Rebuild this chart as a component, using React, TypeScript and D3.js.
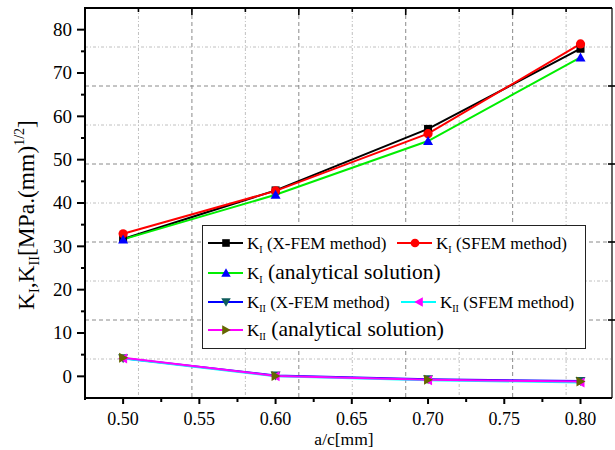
import React from "react";
import * as d3 from "d3";

const ratios = [0.5, 0.6, 0.7, 0.8];
const kiXfem = [31.7, 42.9, 57.1, 75.6];
const kiSfem = [32.9, 42.8, 56.0, 76.7];
const kiAnalytical = [31.6, 41.9, 54.3, 73.6];
const kiiXfem = [4.2, 0.2, -0.7, -1.1];
const kiiSfem = [4.1, 0.0, -0.9, -1.4];
const kiiAnalytical = [4.3, 0.1, -0.8, -1.2];

const xMajorTicks = [0.5, 0.55, 0.6, 0.65, 0.7, 0.75, 0.8];
const xMinorTicks = [0.525, 0.575, 0.625, 0.675, 0.725, 0.775];
const yMajorTicks = [0, 10, 20, 30, 40, 50, 60, 70, 80];
const yMinorTicks = [5, 15, 25, 35, 45, 55, 65, 75];
const gridXTicks = [0.5, 1, 1.5, 2, 2.5, 3, 3.5, 4, 4.5];
const gridYTicks = [0.5, 1, 1.5, 2, 2.5, 3, 3.5, 4, 4.5];

const FONT = "Liberation Serif";
const fs = { fontFamily: FONT };

type Shape = "square" | "circle" | "up" | "down" | "left" | "right";

const Marker = ({ shape, cx, cy, color, s = 1 }: { shape: Shape; cx: number; cy: number; color: string; s?: number }) => {
  const a = 5 * s;
  if (shape === "square") return <rect x={cx - 4 * s} y={cy - 4 * s} width={8 * s} height={8 * s} fill={color} />;
  if (shape === "circle") return <circle cx={cx} cy={cy} r={4.6 * s} fill={color} />;
  let pts = "";
  if (shape === "up") pts = `${cx},${cy - a} ${cx - a},${cy + a * 0.8} ${cx + a},${cy + a * 0.8}`;
  if (shape === "down") pts = `${cx},${cy + a} ${cx - a},${cy - a * 0.8} ${cx + a},${cy - a * 0.8}`;
  if (shape === "left") pts = `${cx - a},${cy} ${cx + a * 0.8},${cy - a} ${cx + a * 0.8},${cy + a}`;
  if (shape === "right") pts = `${cx + a},${cy} ${cx - a * 0.8},${cy - a} ${cx - a * 0.8},${cy + a}`;
  return <polygon points={pts} fill={color} />;
};

const series = [
  { name: "kiX", values: kiXfem, line: "#000000", marker: "#000000", shape: "square" as Shape },
  { name: "kiS", values: kiSfem, line: "#ff0000", marker: "#ff0000", shape: "circle" as Shape },
  { name: "kiA", values: kiAnalytical, line: "#00ee00", marker: "#0000ff", shape: "up" as Shape },
  { name: "kiiX", values: kiiXfem, line: "#0000ff", marker: "#0f5c5c", shape: "down" as Shape },
  { name: "kiiS", values: kiiSfem, line: "#00ffff", marker: "#ff00ff", shape: "left" as Shape },
  { name: "kiiA", values: kiiAnalytical, line: "#ff00ff", marker: "#666600", shape: "right" as Shape },
];

export default function App() {
  const L = 85, R = 611, T = 8, B = 398;
  const x = d3.scaleLinear().domain([0.475, 0.82]).range([L, R]);
  const y = d3.scaleLinear().domain([-5, 85]).range([B, T]);
  const gx = d3.scaleLinear().domain([0, 4.92]).range([L, R]);
  const gy = d3.scaleLinear().domain([0, 5]).range([B, T]);
  const line = d3.line<number>().x((_, i) => x(ratios[i])).y((v) => y(v));
  const fmt = d3.format(".2f");

  const legendRows = [
    { items: [
      { s: series[0], sub: "I", label: " (X-FEM method)", big: false, lx: 208 },
      { s: series[1], sub: "I", label: " (SFEM method)", big: false, lx: 397 },
    ], cy: 243 },
    { items: [{ s: series[2], sub: "I", label: " (analytical solution)", big: true, lx: 208 }], cy: 273 },
    { items: [
      { s: series[3], sub: "II", label: " (X-FEM method)", big: false, lx: 208 },
      { s: series[4], sub: "II", label: " (SFEM method)", big: false, lx: 401 },
    ], cy: 302 },
    { items: [{ s: series[5], sub: "II", label: " (analytical solution)", big: true, lx: 208 }], cy: 330 },
  ];

  return (
    <svg width={615} height={450} style={{ position: "absolute", left: 0, top: 0, background: "#fff", fontFamily: FONT }}>
      <rect x={0} y={0} width={615} height={450} fill="#fff" />
      {gridXTicks.map((t) => {
        const major = Number.isInteger(t);
        return (
          <line key={"gx" + t} x1={gx(t)} x2={gx(t)} y1={T} y2={B}
            stroke={major ? "#8a8a8a" : "#c0c0c0"} strokeWidth={1}
            strokeDasharray={major ? "4,3" : "3,2,1,2"} />
        );
      })}
      {gridYTicks.map((t) => {
        const major = Number.isInteger(t);
        return (
          <line key={"gy" + t} x1={L} x2={R} y1={gy(t)} y2={gy(t)}
            stroke={major ? "#8a8a8a" : "#c0c0c0"} strokeWidth={1}
            strokeDasharray={major ? "4,3" : "3,2,1,2"} />
        );
      })}
      {gridXTicks.map((t) => (
        <line key={"tt" + t} x1={gx(t)} x2={gx(t)} y1={T} y2={T + (Number.isInteger(t) ? 7 : 4)} stroke="#000" strokeWidth={1.6} />
      ))}
      {gridYTicks.filter((t) => Number.isInteger(t)).map((t) => (
        <line key={"rt" + t} x1={R - 3} x2={R + 6} y1={gy(t)} y2={gy(t)} stroke="#000" strokeWidth={1.6} />
      ))}
      <line x1={L} x2={R + 1} y1={T} y2={T} stroke="#000" strokeWidth={2} />
      <line x1={R + 1} x2={R + 1} y1={T} y2={B} stroke="#000" strokeWidth={1.2} />
      <line x1={L} x2={L} y1={T - 1} y2={B + 2} stroke="#000" strokeWidth={2} />
      <line x1={L - 1} x2={R + 1} y1={B} y2={B} stroke="#000" strokeWidth={2} />
      {yMajorTicks.map((t) => (
        <g key={"ym" + t}>
          <line x1={L - 8} x2={L} y1={y(t)} y2={y(t)} stroke="#000" strokeWidth={2} />
          <text style={fs} x={L - 13} y={y(t)} dy="0.34em" textAnchor="end" fontSize={19} fill="#000">{t}</text>
        </g>
      ))}
      {yMinorTicks.map((t) => (
        <line key={"yn" + t} x1={L - 4} x2={L} y1={y(t)} y2={y(t)} stroke="#000" strokeWidth={2} />
      ))}
      {xMajorTicks.map((t) => (
        <g key={"xm" + t}>
          <line x1={x(t)} x2={x(t)} y1={B} y2={B + 6} stroke="#000" strokeWidth={2} />
          <text style={fs} x={x(t)} y={425} textAnchor="middle" fontSize={18} fill="#000">{fmt(t)}</text>
        </g>
      ))}
      {xMinorTicks.map((t) => (
        <line key={"xn" + t} x1={x(t)} x2={x(t)} y1={B} y2={B + 4} stroke="#000" strokeWidth={2} />
      ))}
      <text style={fs} x={344} y={445} textAnchor="middle" fontSize={17.5} fill="#000">a/c[mm]</text>
      <text style={fs} transform={`translate(34,215) rotate(-90)`} textAnchor="middle" fontSize={23.5} fill="#000">
        <tspan>K</tspan>
        <tspan fontSize={14} dy={5}>I</tspan>
        <tspan dy={-5}>,K</tspan>
        <tspan fontSize={14} dy={5}>II</tspan>
        <tspan dy={-5}>[MPa.(mm)</tspan>
        <tspan fontSize={14} dy={-10}>1/2</tspan>
        <tspan dy={10}>]</tspan>
      </text>
      {series.map((s) => (
        <path key={"l" + s.name} d={line(s.values) || ""} fill="none" stroke={s.line} strokeWidth={2} />
      ))}
      {series.map((s) => (
        <g key={"m" + s.name}>
          {s.values.map((v, i) => (
            <Marker key={i} shape={s.shape} cx={x(ratios[i])} cy={y(v)} color={s.marker} />
          ))}
        </g>
      ))}
      <rect x={202.5} y={225.5} width={383} height={123} fill="#fff" stroke="#222" strokeWidth={1} />
      {legendRows.map((row, ri) => (
        <g key={"lr" + ri}>
          {row.items.map((it, ii) => (
            <g key={ii}>
              <line x1={it.lx} x2={it.lx + 35} y1={row.cy} y2={row.cy} stroke={it.s.line} strokeWidth={2} />
              <Marker shape={it.s.shape} cx={it.lx + 18} cy={row.cy} color={it.s.marker} s={0.95} />
              <text style={fs} x={it.lx + 39} y={row.cy + 6} fontSize={17} fill="#000">
                <tspan>K</tspan>
                <tspan fontSize={10} dy={4}>{it.sub}</tspan>
                <tspan dy={-4} fontSize={it.big ? 21.5 : 17}>{it.label}</tspan>
              </text>
            </g>
          ))}
        </g>
      ))}
    </svg>
  );
}
